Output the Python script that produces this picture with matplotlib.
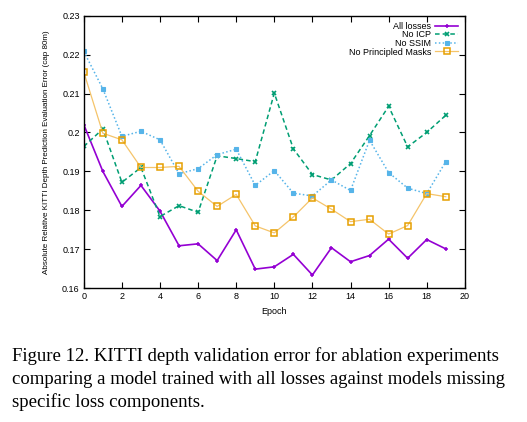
import numpy as np
import matplotlib
matplotlib.use("Agg")
import matplotlib.pyplot as plt

epochs = list(range(20))
all_losses = [0.202, 0.190, 0.181, 0.1864, 0.1798, 0.1709, 0.1714, 0.1671, 0.175, 0.1649,
              0.1655, 0.1687, 0.1634, 0.1704, 0.1668, 0.1684, 0.1726, 0.1677, 0.1725, 0.1701]
no_icp = [0.1964, 0.2009, 0.1872, 0.1910, 0.1784, 0.1812, 0.1795, 0.1940, 0.1933, 0.1925,
          0.2101, 0.1958, 0.1892, 0.1878, 0.1920, 0.1992, 0.2067, 0.1963, 0.2000, 0.2044]
no_ssim = [0.2208, 0.2112, 0.1990, 0.2003, 0.1981, 0.1894, 0.1907, 0.1943, 0.1957, 0.1864,
           0.1902, 0.1844, 0.1837, 0.1878, 0.1851, 0.1980, 0.1897, 0.1857, 0.1843, 0.1925]
no_masks = [0.2155, 0.1998, 0.1981, 0.1910, 0.1910, 0.1913, 0.1849, 0.1810, 0.1841, 0.1760,
            0.1742, 0.1783, 0.1832, 0.1803, 0.1771, 0.1777, 0.1739, 0.1761, 0.1843, 0.1835]

caption = ["Figure 12. KITTI depth validation error for ablation experiments",
           "comparing a model trained with all losses against models missing",
           "specific loss components."]

plt.rcParams['font.family'] = ['Liberation Sans', 'DejaVu Sans']
fig = plt.figure(figsize=(5.27, 4.22), dpi=100)
ax = fig.add_axes([0.159, 0.317, 0.723, 0.646])

ax.plot(epochs, all_losses, color='#9400d3', lw=1.2, marker='+', ms=3, mew=1.1, label='All losses')
ax.plot(epochs, no_icp, color='#009e73', lw=1.1, ls=(0, (3, 2)), marker='x', ms=3.2, mew=1.2, label='No ICP')
ax.plot(epochs, no_ssim, color='#56b4e9', lw=1.1, ls=(0, (1, 1.5)), marker='s', ms=3.3, mew=0.8, label='No SSIM')
ax.plot(epochs, no_masks, color='#f5c46a', lw=0.9, marker='s', ms=4.5, mfc='none',
        mec='#e69f00', mew=1.1, label='No Principled Masks')

ax.set_xlim(0, 20)
ax.set_ylim(0.16, 0.23)
ax.set_xticks(range(0, 21, 2))
ax.set_yticks(np.arange(0.16, 0.2301, 0.01))
ax.set_yticklabels(['0.16', '0.17', '0.18', '0.19', '0.2', '0.21', '0.22', '0.23'])
ax.tick_params(direction='in', top=True, right=True, labelsize=6.5, length=4, width=0.8, pad=3)
for s in ax.spines.values():
    s.set_linewidth(1.0)

ax.set_xlabel('Epoch', fontsize=6.5, labelpad=4)
ax.set_ylabel('Absolute Relative KITTI Depth Prediction Evaluation Error (cap 80m)', fontsize=5.8, labelpad=9)

ax.legend(loc='upper right', frameon=False, markerfirst=False, fontsize=6.5, handlelength=2.6,
          labelspacing=-0.05, handletextpad=0.4, borderaxespad=0.5, borderpad=0.2)

for i, line in enumerate(caption):
    fig.text(0.023, 0.145 - i * 0.055, line, fontsize=13.5, family=['Liberation Serif', 'DejaVu Serif'],
             ha='left', va='baseline')

fig.savefig('out.png', dpi=100)
